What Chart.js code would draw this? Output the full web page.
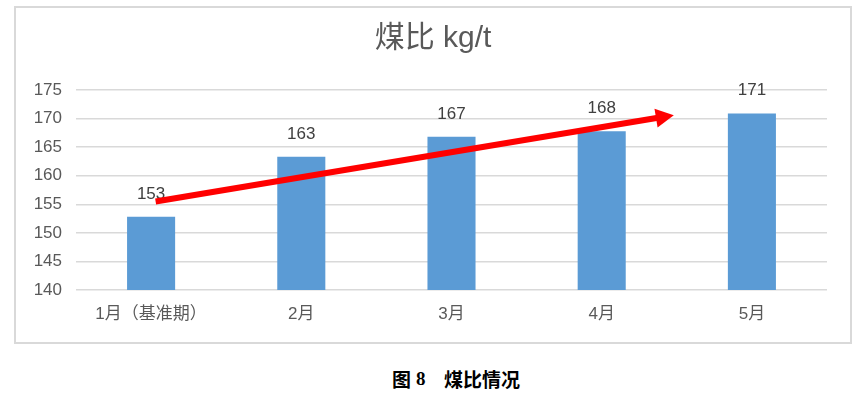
<!DOCTYPE html>
<html>
<head>
<meta charset="utf-8">
<script src="https://cdn.jsdelivr.net/npm/chart.js@4/dist/chart.umd.min.js"></script>
<style>
  html, body { margin: 0; padding: 0; background: #fff; }
  body { width: 864px; height: 393px; position: relative; overflow: hidden; }
  #frame { position: absolute; left: 14px; top: 6px; width: 834px; height: 334px; border: 2px solid #d9d9d9; }
  #wrap { position: absolute; left: 0; top: 0; width: 834px; height: 334px; }
  .cap { position: absolute; top: 369px; line-height: 19px; font-size: 19px; font-weight: bold; color: #000;
    font-family: "Noto Sans CJK SC", sans-serif; white-space: nowrap; }
  .cap.num { font-family: "Liberation Serif", serif; }
</style>
</head>
<body>
<div id="frame"><div id="wrap"><canvas id="c"></canvas></div></div>
<span class="cap" style="left:392px">图</span><span class="cap num" style="left:416px">8</span><span class="cap" style="left:444px">煤比情况</span>
<script>
const categories = ["1月（基准期）", "2月", "3月", "4月", "5月"];
const coalRatio = [152.8, 163.3, 166.8, 167.8, 170.9];
const dataLabels = ["153", "163", "167", "168", "171"];
const yTicks = [140, 145, 150, 155, 160, 165, 170, 175];
const chartTitle = "煤比 kg/t";
// trend arrow annotation in data units: [category index, value]
const arrowFrom = [0.03, 155.5];
const arrowTo = [3.48, 170.6];

const FONT = '"Liberation Sans", "Noto Sans CJK SC", Arial, sans-serif';

const labelPlugin = {
  id: 'barLabels',
  afterDatasetsDraw(chart) {
    const ctx = chart.ctx;
    const meta = chart.getDatasetMeta(0);
    ctx.save();
    ctx.font = '17px ' + FONT;
    ctx.fillStyle = '#404040';
    ctx.textAlign = 'center';
    ctx.textBaseline = 'alphabetic';
    meta.data.forEach((bar, i) => {
      ctx.fillText(dataLabels[i], bar.x, bar.y - 18);
    });
    ctx.restore();
  }
};

const arrowPlugin = {
  id: 'trendArrow',
  afterDraw(chart) {
    const xs = chart.scales.x, ys = chart.scales.y;
    const x0 = xs.getPixelForValue(arrowFrom[0]), y0 = ys.getPixelForValue(arrowFrom[1]);
    const x1 = xs.getPixelForValue(arrowTo[0]), y1 = ys.getPixelForValue(arrowTo[1]);
    const ang = Math.atan2(y1 - y0, x1 - x0);
    const headLen = 18, headHalf = 9.5;
    const bx = x1 - headLen * Math.cos(ang), by = y1 - headLen * Math.sin(ang);
    const ctx = chart.ctx;
    ctx.save();
    ctx.strokeStyle = '#ff0000';
    ctx.fillStyle = '#ff0000';
    ctx.lineWidth = 6;
    ctx.lineCap = 'butt';
    ctx.beginPath();
    ctx.moveTo(x0, y0);
    ctx.lineTo(bx + 2 * Math.cos(ang), by + 2 * Math.sin(ang));
    ctx.stroke();
    ctx.beginPath();
    ctx.moveTo(x1, y1);
    ctx.lineTo(bx + headHalf * Math.sin(ang), by - headHalf * Math.cos(ang));
    ctx.lineTo(bx - headHalf * Math.sin(ang), by + headHalf * Math.cos(ang));
    ctx.closePath();
    ctx.fill();
    ctx.restore();
  }
};

new Chart(document.getElementById('c'), {
  type: 'bar',
  data: {
    labels: categories,
    datasets: [{
      data: coalRatio,
      backgroundColor: '#5b9bd5',
      borderWidth: 0,
      categoryPercentage: 1,
      barPercentage: 0.32
    }]
  },
  options: {
    responsive: true,
    maintainAspectRatio: false,
    animation: false,
    layout: { padding: { left: 0, right: 0, top: 0, bottom: 0 } },
    plugins: {
      legend: { display: false },
      tooltip: { enabled: false },
      title: {
        display: true,
        text: chartTitle,
        color: '#595959',
        font: { family: FONT, size: 30, weight: 'normal', lineHeight: 1.2 },
        padding: { top: 13, bottom: 33 }
      }
    },
    scales: {
      x: {
        grid: { display: false, drawTicks: false },
        border: { display: false },
        ticks: { color: '#595959', font: { family: FONT, size: 17 }, padding: 14, maxRotation: 0, autoSkip: false },
        afterFit(s) { s.height = 52; }
      },
      y: {
        min: 140, max: 175,
        afterBuildTicks(s) { s.ticks = yTicks.map(v => ({ value: v })); },
        grid: { color: '#d9d9d9', lineWidth: 1.5, drawTicks: false },
        border: { display: false },
        ticks: { color: '#595959', font: { family: FONT, size: 17 }, padding: 14 },
        afterFit(s) { s.width = 60; }
      },
      yRight: {
        position: 'right',
        min: 140, max: 175,
        grid: { display: false, drawTicks: false },
        border: { display: false },
        ticks: { display: false },
        afterFit(s) { s.width = 23; }
      }
    }
  },
  plugins: [labelPlugin, arrowPlugin]
});
</script>
</body>
</html>
